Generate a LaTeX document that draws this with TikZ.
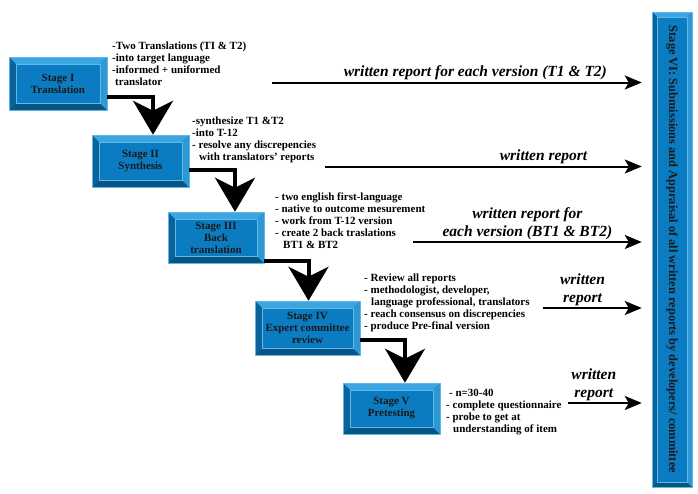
\documentclass[tikz,border=0pt]{standalone}
\usepackage{fontspec}
\setmainfont{Liberation Serif}
\usetikzlibrary{calc, arrows.meta, positioning}
\definecolor{stageblue}{HTML}{0B7CC1}
\definecolor{bevtop}{HTML}{3DA5E0}
\definecolor{bevright}{HTML}{2E98D4}
\definecolor{bevleft}{HTML}{0B6298}
\definecolor{bevbottom}{HTML}{085584}
\definecolor{bevline}{HTML}{5DB9EC}
\tikzset{
    bevel/.style = {path picture={
      \fill[bevtop] (path picture bounding box.north west) -- (path picture bounding box.north east)
        -- ([shift={(-#1,-#1)}]path picture bounding box.north east) -- ([shift={(#1,-#1)}]path picture bounding box.north west) -- cycle;
      \fill[bevbottom] (path picture bounding box.south west) -- (path picture bounding box.south east)
        -- ([shift={(-#1,#1)}]path picture bounding box.south east) -- ([shift={(#1,#1)}]path picture bounding box.south west) -- cycle;
      \fill[bevleft] (path picture bounding box.north west) -- (path picture bounding box.south west)
        -- ([shift={(#1,#1)}]path picture bounding box.south west) -- ([shift={(#1,-#1)}]path picture bounding box.north west) -- cycle;
      \fill[bevright] (path picture bounding box.north east) -- (path picture bounding box.south east)
        -- ([shift={(-#1,#1)}]path picture bounding box.south east) -- ([shift={(-#1,-#1)}]path picture bounding box.north east) -- cycle;
      \draw[bevline, line width=0.5pt] ([shift={(#1,-#1)}]path picture bounding box.north west)
        rectangle ([shift={(-#1,#1)}]path picture bounding box.south east);
    }},
    stagenode/.style = {draw=bevline, fill=stageblue, rectangle, line width=0.5pt, inner sep=0em,
      node distance=0em, align=center, text=black!90, font=\fontsize{11}{12}\selectfont\bfseries, bevel=7pt},
    textnode/.style = {draw=none, fill=none, rectangle, inner sep=0em, anchor=north west,
      align=left, font=\fontsize{11}{12}\selectfont\bfseries},
    reportnode/.style = {draw=none, fill=none, inner sep=1.5pt, align=center,
      font=\fontsize{15.5}{18}\selectfont\bfseries\itshape},
    flow/.style = {black, line width=4pt, -{Stealth[length=34pt, width=40pt, inset=10pt]}},
    report/.style = {black, line width=2pt, -{Stealth[length=17pt, width=14pt, inset=4pt]}}
}

\begin{document}
\begin{tikzpicture}[x=1pt, y=-1pt]
    \useasboundingbox (0,0) rectangle (698,493);

    % stages
    \node [stagenode, name=s1, minimum width=98pt, minimum height=53pt] at (58,83.5) {Stage I\\Translation};
    \node [stagenode, name=s2, below of=s1, xshift=82.5pt, yshift=-77.5pt, minimum width=97pt, minimum height=52pt] {Stage II\\Synthesis};
    \node [stagenode, name=s3, below of=s2, xshift=75.5pt, yshift=-76.5pt, minimum width=96pt, minimum height=51pt] {Stage III\\Back\\translation};
    \node [stagenode, name=s4, below of=s3, xshift=91.5pt, yshift=-90.5pt, minimum width=105pt, minimum height=54pt] {Stage IV\\Expert committee\\review};
    \node [stagenode, name=s5, below of=s4, xshift=84pt, yshift=-80.5pt, minimum width=97pt, minimum height=51pt] {Stage V\\Pretesting};
    \node [stagenode, name=s6, bevel=5pt, minimum width=40pt, minimum height=475pt, font=\fontsize{12.4}{14}\selectfont\bfseries] at (672,249.5)
        {\rotatebox{-90}{Stage VI: Submissions and Appraisal of all written reports by developers/ committee}};

    % notes
    \node [textnode, name=t1] at (112,41.5) {-Two Translations (TI \& T2)\\-into target language\\-informed + uniformed\\\hspace*{3pt}translator};
    \node [textnode, name=t2] at (192,116.5) {-synthesize T1 \&T2\\-into T-12\\- resolve any discrepencies\\\hspace*{7pt}with translators' reports};
    \node [textnode, name=t3] at (275,192.5) {- two english first-language\\- native to outcome mesurement\\- work from T-12 version\\- create 2 back traslations\\\hspace*{8pt}BT1 \& BT2};
    \node [textnode, name=t4] at (364,273.5) {- Review all reports\\- methodologist, developer,\\\hspace*{7pt}language professional, translators\\- reach consensus on discrepencies\\- produce Pre-final version};
    \node [textnode, name=t5] at (446,388.5) {\hspace*{3pt}- n=30-40\\- complete questionnaire\\- probe to get at\\\hspace*{7pt}understanding of item};

    % flow between stages
    \draw[flow] ([yshift=-13pt]s1.east) -| ([xshift=12.5pt]s2.north);
    \draw[flow] ([yshift=-9pt]s2.east) -| ([xshift=19pt]s3.north);
    \draw[flow] ([yshift=-23pt]s3.east) -| ([xshift=1pt]s4.north);
    \draw[flow] ([yshift=-12pt]s4.east) -| ([xshift=13.5pt]s5.north);

    % written reports
    \coordinate (r1) at (272,82.5);
    \coordinate (r2) at (325,166.5);
    \coordinate (r3) at (413,242);
    \coordinate (r4) at (543,308);
    \coordinate (r5) at (568,403);
    \draw[report] (r1) -- node[reportnode, above, pos=0.55] {written report for each version (T1 \& T2)} ($(r1 -| s6.west)+(-10,0)$);
    \draw[report] (r2) -- node[reportnode, above, pos=0.69] {written report} ($(r2 -| s6.west)+(-10,0)$);
    \draw[report] (r3) -- node[reportnode, above, pos=0.5] {written report for\\each version (BT1 \& BT2)} ($(r3 -| s6.west)+(-10,0)$);
    \draw[report] (r4) -- node[reportnode, above, pos=0.4] {written\\report} ($(r4 -| s6.west)+(-10,0)$);
    \draw[report] (r5) -- node[reportnode, above, pos=0.35] {written\\report} ($(r5 -| s6.west)+(-10,0)$);
\end{tikzpicture}
\end{document}
